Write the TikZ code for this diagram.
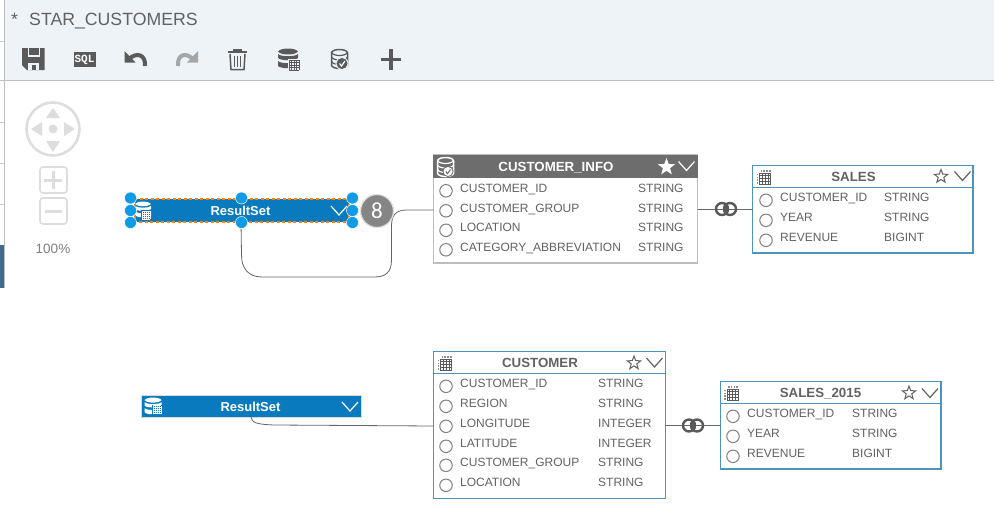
\documentclass[tikz,border=0pt]{standalone}
\usepackage{fontspec}
\setmainfont{Liberation Sans}
\setmonofont{Liberation Mono}
\newfontfamily\slimfont{Carlito}
\usetikzlibrary{shapes.geometric}
\definecolor{txt}{HTML}{626262}
\definecolor{ico}{HTML}{5A5A5A}
\definecolor{bar}{HTML}{EEF3F8}
\definecolor{rsblue}{HTML}{0A7ABF}
\definecolor{hand}{HTML}{0F9BE8}
\definecolor{tblue}{HTML}{4A95BA}
\definecolor{tgray}{HTML}{BDBDBD}
\definecolor{hgray}{HTML}{6D6D6D}
\definecolor{navc}{HTML}{DDDDDD}
\definecolor{sidec}{HTML}{3F6A8F}
\tikzset{
 x=1pt,y=-1pt,
 rowtext/.style={anchor=base west,inner sep=0pt,text=txt,font=\fontsize{12}{14}\selectfont},
 rowdot/.style={circle,draw=black!50,line width=1pt,fill=white,minimum size=12.5pt,inner sep=0pt},
 tabbox/.style={line width=1.1pt,fill=white,inner sep=0pt,outer sep=0pt,anchor=north west},
 tabtitle/.style={anchor=base,inner sep=0pt,font=\bfseries\fontsize{13.3}{15}\selectfont},
 conn/.style={draw=black!60,line width=.8pt},
 handle/.style={circle,fill=hand,draw=white,line width=.5pt,minimum size=12pt,inner sep=0pt},
 ring/.style={circle,draw=black!65,line width=2.4pt,minimum size=12pt,inner sep=0pt},
 startb/.style={star,star points=5,star point ratio=2.4,minimum size=18pt,inner sep=0pt},
 starout/.style={star,star points=5,star point ratio=2.4,draw=txt,line width=1pt,fill=white,minimum size=14pt,inner sep=0pt},
 zoombtn/.style={draw=navc,line width=1.6pt,fill=white,rounded corners=3pt},
}
% small table grid: x, y, size, cell count, colour, backing colour
\newcommand{\minigrid}[6]{\begin{scope}[shift={(#1,#2)}]
 \fill[#6] (-1,-1) rectangle (#3+1,#3+1);
 \pgfmathsetmacro{\cellw}{#3/#4}
 \foreach \k in {0,...,#4}{
  \draw[#5,line width=.75pt] (\k*\cellw,0) -- (\k*\cellw,#3);
  \draw[#5,line width=.75pt] (0,\k*\cellw) -- (#3,\k*\cellw);}
\end{scope}}
% table icon with dotted head row and column
\newcommand{\gridicon}[2]{\begin{scope}[shift={(#1,#2)}]
 \foreach \k in {0,...,4}{
  \draw[black!65,line width=.8pt] (3+\k*2.8,3.5) -- (3+\k*2.8,15);
  \draw[black!65,line width=.8pt] (3,3.5+\k*2.875) -- (14.2,3.5+\k*2.875);}
 \foreach \k in {0,...,3}{
  \fill[black!45] (4+\k*2.8,.6) rectangle (5.6+\k*2.8,2.2);
  \fill[black!45] (0,4.2+\k*2.875) rectangle (1.6,5.8+\k*2.875);}
\end{scope}}
% database stack: x, y, scale, colour
\newcommand{\dbband}[3]{\fill[#3] (0,#1) .. controls (3,#1+3) and (17,#1+3) .. (20,#1) -- (20,#2) .. controls (17,#2+3) and (3,#2+3) .. (0,#2) -- cycle;}
\newcommand{\dbicon}[4]{\begin{scope}[shift={(#1,#2)},scale=#3]
 \fill[#4] (0,3) .. controls (3,-1) and (17,-1) .. (20,3) .. controls (17,7) and (3,7) .. (0,3) -- cycle;
 \dbband{5.5}{9.5}{#4}
 \dbband{12.5}{17.5}{#4}
\end{scope}}
\newcommand{\chev}[3]{\draw[#3,line width=1.2pt] (#1-8,#2-4.5) -- (#1,#2+4.5) -- (#1+8,#2-4.5);}
\newcommand{\dbcheck}[3]{\begin{scope}[shift={(#1,#2)}]
 \draw[#3,line width=1.5pt,line join=round] (0,3) .. controls (2,-1) and (14,-1) .. (16,3) -- (16,16) .. controls (14,20) and (2,20) .. (0,16) -- cycle;
 \draw[#3,line width=1.2pt] (0,3) .. controls (2,7) and (14,7) .. (16,3);
 \draw[#3,line width=1.2pt] (0,7.5) .. controls (2,11.5) and (14,11.5) .. (16,7.5);
 \draw[#3,line width=1.2pt] (0,12) .. controls (2,16) and (14,16) .. (16,12);
\end{scope}}
\begin{document}
\begin{tikzpicture}
\useasboundingbox (0,0) rectangle (994,512);
\fill[white] (0,0) rectangle (994,512);
% left strip and toolbar
\fill[bar] (5,0) rectangle (994,80);
\draw[black!25,line width=1pt] (0,80.5) -- (994,80.5);
\draw[black!25,line width=1pt] (4.5,0) -- (4.5,288);
\foreach \yy in {41,122,163,204}{\draw[black!20,line width=.8pt] (0,\yy) -- (4,\yy);}
\fill[sidec] (0,245) rectangle (4,288);
\node[anchor=base west,inner sep=0pt,text=txt,font=\fontsize{17.7}{20}\selectfont] (star) at (11,25) {*};
\node[anchor=base west,inner sep=0pt,text=txt,font=\fontsize{17.7}{20}\selectfont] (title) at (29,25) {STAR\_CUSTOMERS};
% toolbar icons
\fill[ico] (22,48) -- (44.5,48) -- (44.5,70) -- (27,70) -- (22,65) -- cycle;
\fill[bar] (27.5,48) rectangle (39.5,57);
\fill[ico] (28.5,48) rectangle (38.5,54.5);
\fill[bar] (28,62.5) rectangle (39,70);
\fill[ico] (32,65) rectangle (36,70);
\node[fill=ico,text=white,inner sep=0pt,minimum width=22pt,minimum height=15pt,font=\ttfamily\bfseries\fontsize{11}{11}\selectfont] (sql) at (84.5,59.5) {SQL};
\draw[ico,line width=4pt] (129,59) .. controls (137,51.5) and (146,55) .. (145,66);
\fill[ico] (124.5,51) -- (124.5,62.5) -- (135.5,62.5) -- cycle;
\draw[black!35,line width=4pt] (193,59) .. controls (185,51.5) and (177,55) .. (178,66);
\fill[black!35] (198,51) -- (198,62.5) -- (187,62.5) -- cycle;
\draw[ico,line width=1.5pt] (228,52) -- (247,52);
\draw[ico,line width=1.5pt] (234,52) -- (234,50) -- (241,50) -- (241,52);
\draw[ico,line width=1.5pt] (230,54) -- (231,69.5) -- (244,69.5) -- (245,54);
\foreach \xx in {234.5,237.5,240.5}{\draw[ico,line width=1.3pt] (\xx,56) -- (\xx,67);}
\dbicon{278}{48.5}{1}{ico}
\minigrid{289}{60}{10}{4}{ico}{bar}
\dbcheck{331.5}{49.5}{ico}
\fill[bar] (342,63.5) circle (6.5);
\fill[ico] (342,63.5) circle (5.5);
\draw[white,line width=1.2pt] (339.5,63.5) -- (341.5,66) -- (345,61);
\fill[ico] (389,49) rectangle (392.5,69.5);
\fill[ico] (381,57.5) rectangle (401,61);
% navigation
\draw[navc,line width=2.6pt] (53,129) circle (26.5);
\fill[navc] (53,129) circle (4.5);
\fill[navc] (53,108) -- (60,118) -- (46,118) -- cycle;
\fill[navc] (53,152) -- (60,141) -- (46,141) -- cycle;
\fill[navc] (31,129) -- (42,122) -- (42,136) -- cycle;
\fill[navc] (75,129) -- (64,122) -- (64,136) -- cycle;
\draw[zoombtn] (40,167) rectangle (67,193);
\draw[zoombtn] (40,198) rectangle (67,224);
\fill[navc] (44,179) rectangle (62,182);
\fill[navc] (51.7,171) rectangle (54.7,189);
\fill[navc] (45,209.5) rectangle (62,212.5);
\node[anchor=base,inner sep=0pt,text=black!50,font=\fontsize{13.5}{15}\selectfont] (zoomlbl) at (53,253) {100\%};

% tables
\newcommand{\rowitem}[5]{%
 \node[rowdot] at (#1,#3+3.3) {};
 \node[rowtext] at (#1+14,#3+4.5) {#4};
 \node[rowtext] at (#2,#3+4.5) {#5};}
% CUSTOMER_INFO
\node[tabbox,draw=tgray,minimum width=264pt,minimum height=108pt] (info) at (433.5,155) {};
\fill[hgray] (433,155) rectangle (697.5,178);
\dbcheck{437.5}{157.5}{white}
\fill[hgray] (448,171.5) circle (5.5);
\fill[white] (448,171.5) circle (4.5);
\draw[hgray,line width=1.1pt] (445.8,171.5) -- (447.5,173.5) -- (450.5,169.5);
\node[tabtitle,text=white] (infot) at (556,171) {CUSTOMER\_INFO};
\node[startb,fill=white] (infostar) at (666.5,167) {};
\chev{686.5}{166}{white}
\rowitem{446}{638}{187.5}{CUSTOMER\_ID}{STRING}
\rowitem{446}{638}{207.5}{CUSTOMER\_GROUP}{STRING}
\rowitem{446}{638}{227}{LOCATION}{STRING}
\rowitem{446}{638}{246.5}{CATEGORY\_ABBREVIATION}{STRING}
% SALES
\node[tabbox,draw=tblue,minimum width=220.5pt,minimum height=87.5pt] (sales) at (752.5,165.5) {};
\draw[tblue,line width=1.1pt] (752.5,187.5) -- (973,187.5);
\gridicon{756.5}{169.5}
\node[tabtitle,text=txt] (salest) at (853.5,181) {SALES};
\node[starout] (salesstar) at (941,176.5) {};
\chev{962.5}{176}{txt}
\rowitem{766}{884}{197}{CUSTOMER\_ID}{STRING}
\rowitem{766}{884}{217}{YEAR}{STRING}
\rowitem{766}{884}{237}{REVENUE}{BIGINT}
% CUSTOMER
\node[tabbox,draw=tblue,minimum width=232pt,minimum height=147pt] (cust) at (433.5,351.5) {};
\draw[tblue,line width=1.1pt] (433.5,373.5) -- (665.5,373.5);
\gridicon{437.5}{355.5}
\node[tabtitle,text=txt] (custt) at (540,367) {CUSTOMER};
\node[starout] (custstar) at (634,363) {};
\chev{654.5}{362.5}{txt}
\rowitem{446}{598}{383}{CUSTOMER\_ID}{STRING}
\rowitem{446}{598}{403}{REGION}{STRING}
\rowitem{446}{598}{423}{LONGITUDE}{INTEGER}
\rowitem{446}{598}{443}{LATITUDE}{INTEGER}
\rowitem{446}{598}{462}{CUSTOMER\_GROUP}{STRING}
\rowitem{446}{598}{482}{LOCATION}{STRING}
% SALES_2015
\node[tabbox,draw=tblue,minimum width=220.5pt,minimum height=87.5pt] (s15) at (720.5,381.5) {};
\draw[tblue,line width=1.1pt] (720.5,403.5) -- (941,403.5);
\gridicon{724}{385.5}
\node[tabtitle,text=txt] (s15t) at (820.5,397) {SALES\_2015};
\node[starout] (s15star) at (909,393) {};
\chev{930}{393}{txt}
\rowitem{733}{852}{413}{CUSTOMER\_ID}{STRING}
\rowitem{733}{852}{433}{YEAR}{STRING}
\rowitem{733}{852}{453}{REVENUE}{BIGINT}

% result sets
\node[fill=rsblue,outer sep=0pt,minimum width=214pt,minimum height=23pt,inner sep=0pt,anchor=north west] (rs1) at (135,198.5) {};
\node[anchor=base,inner sep=0pt,text=white,font=\bfseries\fontsize{13}{15}\selectfont] (rs1t) at (240.5,215) {ResultSet};
\dbicon{135}{201.5}{.8}{white}
\minigrid{142}{211}{8}{4}{white}{rsblue}
\chev{339}{210.5}{white}
\draw[orange,line width=2pt,dash pattern=on 3pt off 2.5pt] (135,198.5) rectangle (349,222);
\node[fill=rsblue,draw=black!15,line width=.5pt,outer sep=0pt,minimum width=220pt,minimum height=22pt,inner sep=0pt,anchor=north west] (rs2) at (141,395) {};
\node[anchor=base,inner sep=0pt,text=white,font=\bfseries\fontsize{13}{15}\selectfont] (rs2t) at (250.5,411) {ResultSet};
\dbicon{144.5}{397.5}{.85}{white}
\minigrid{153}{405.5}{8}{4}{white}{rsblue}
\chev{350}{406.5}{white}

% connectors
\coordinate (c1a) at (241,222);
\coordinate (c2a) at (251,417);
\draw[conn] (info.west |- 0,210) -- (407,210) .. controls (396,210) and (391.5,215) .. (391.5,226) -- (391.5,260) .. controls (391.5,272) and (386,277) .. (374,277) -- (262,277) .. controls (248,277) and (241.5,268) .. (241.5,255) -- (c1a);
\draw[conn] (c2a) .. controls (251.5,423) and (258,424.5) .. (275,425) -- (cust.west |- 0,426);
\coordinate (j1l) at (697.5,209);
\coordinate (j1r) at (752.5,209);
\coordinate (j2l) at (665.5,425);
\coordinate (j2r) at (720.5,425);
\draw[conn,line width=1pt] (j1l) -- (j1r);
\draw[conn,line width=1pt] (j2l) -- (j2r);
\node[ring] (j1a) at (722,209) {};
\node[ring] (j1b) at (730,209) {};
\begin{scope}\clip (722,209) circle (7); \fill[black!65] (730,209) circle (7);\end{scope}
\node[ring] (j2a) at (689,425.5) {};
\node[ring] (j2b) at (697,425.5) {};
\begin{scope}\clip (689,425.5) circle (7); \fill[black!65] (697,425.5) circle (7);\end{scope}

% badge and handles
\node[circle,fill=black!48,draw=black!12,line width=1.3pt,minimum size=33pt,inner sep=0pt,text=white,font=\slimfont\fontsize{23}{25}\selectfont] (badge) at (377,211) {8};
\foreach \hx/\hy in {130.5/198,241.5/198,352.5/198,130.5/210.5,352.5/210.5,130.5/222.5,241.5/222.5,352.5/222.5}{
 \node[handle] at (\hx,\hy) {};}
\end{tikzpicture}
\end{document}
